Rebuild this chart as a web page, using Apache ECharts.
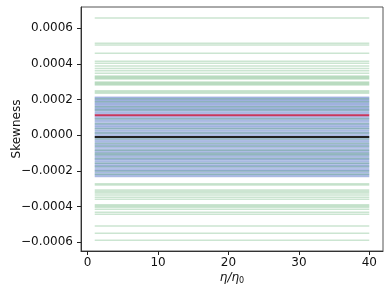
<!DOCTYPE html>
<html>
<head>
<meta charset="utf-8">
<script src="https://cdn.jsdelivr.net/npm/echarts@6/dist/echarts.min.js"></script>
<style>html,body{margin:0;padding:0;background:#fff;}#c{width:390px;height:293px;}</style>
</head>
<body>
<div id="c"></div>
<script>
const etaValues = [1,2,3,4,5,6,7,8,9,10,11,12,13,14,15,16,17,18,19,20,21,22,23,24,25,26,27,28,29,30,31,32,33,34,35,36,37,38,39,40];
const greenLevels = [0.000658, 0.000516, 0.000507, 0.00046, 0.000415, 0.000404, 0.000389, 0.000375, 0.000362, 0.000348, 0.000333, 0.000327, 0.000321, 0.000316, 0.000299, 0.000293, 0.000287, 0.000282, 0.00025, 0.000243, 0.000236,
  0.000205, 0.000188, 0.00016, 0.000141, 0.000092, 0.000065, 0.000038, 0.000012, -0.000021, -0.000046, -0.000062, -0.000085, -0.000101, -0.000109, -0.00013, -0.000158, -0.000176, -0.000201, -0.000219,
  -0.000273, -0.000279, -0.000307, -0.000316, -0.000325, -0.000336, -0.000348, -0.000359, -0.000391, -0.000398, -0.000404, -0.000415, -0.000432, -0.000443, -0.000509, -0.00055, -0.000589];
const blueLevels = [0.000213, 0.000208, 0.000201, 0.000196, 0.000189, 0.000182, 0.000176, 0.000169, 0.000161, 0.000155, 0.000148, 0.000141, 0.000133, 0.000126, 0.000119, 0.000104, 0.000097, 0.000089, 0.000081, 0.000074, 0.000066, 0.000059, 0.000051, 0.000044, 0.000036, 0.000028, 0.000021, 0.000013, 0.000005, -0.000003, -0.000017, -0.000025, -0.000033, -0.000041, -0.000049, -0.000056, -0.000064, -0.000072, -0.00008, -0.000087, -0.000095, -0.000103, -0.000111, -0.000118, -0.000126, -0.000134, -0.000141, -0.000149, -0.000157, -0.000165, -0.000172, -0.00018, -0.000188, -0.000196, -0.000203, -0.000211, -0.000219, -0.000226, -0.000232];
const redLevel = 0.000112;
const blackLevel = -0.0000095;
const yTicks = [-0.0006, -0.0004, -0.0002, 0, 0.0002, 0.0004, 0.0006];
const xTicks = [0, 10, 20, 30, 40];

function flat(v){ return etaValues.map(x => [x, v]); }
const series = [];
blueLevels.forEach(v => series.push({type:'line', data:flat(v), symbol:'none', silent:true, lineStyle:{color:'rgba(76,110,196,0.42)', width:1.6}}));
greenLevels.forEach(v => series.push({type:'line', data:flat(v), symbol:'none', silent:true, lineStyle:{color:'rgba(70,160,90,0.28)', width:1.5}}));
series.push({type:'line', data:flat(redLevel), symbol:'none', silent:true, lineStyle:{color:'#c8365c', width:2}});
series.push({type:'line', data:flat(blackLevel), symbol:'none', silent:true, lineStyle:{color:'#222222', width:2}});

const fmt = v => { const s = Math.abs(v) < 1e-12 ? '0.0000' : Math.abs(v).toFixed(4); return (v < -1e-12 ? '\u2212' : '') + s; };
const chart = echarts.init(document.getElementById('c'), null, {renderer:'canvas'});
chart.setOption({
  animation:false,
  grid:{left:81, right:7, top:7, bottom:42, show:true, borderColor:'#555', borderWidth:1, containLabel:false, outerBoundsMode:'none'},
  xAxis:{type:'value', min:-0.95, max:41.95, splitLine:{show:false},
    axisLine:{show:true, onZero:false, lineStyle:{color:'#333', width:1}},
    axisTick:{show:true, customValues:xTicks, length:4, lineStyle:{color:'#222'}},
    axisLabel:{customValues:xTicks, color:'#111', fontFamily:'DejaVu Sans', fontSize:12, margin:6},
    name:'{i|η/η}{s|0}', nameLocation:'middle', nameGap:20, nameMoveOverlap:false,
    nameTextStyle:{rich:{i:{fontFamily:'DejaVu Sans', fontStyle:'italic', fontSize:12, color:'#111'}, s:{fontFamily:'DejaVu Sans', fontSize:8, color:'#111', verticalAlign:'bottom', padding:[6,0,0,0]}}}},
  yAxis:{type:'value', min:-0.00065, max:0.00072, splitLine:{show:false},
    axisLine:{show:true, onZero:false, lineStyle:{color:'#333', width:1}},
    axisTick:{show:true, customValues:yTicks, length:4, lineStyle:{color:'#222'}},
    axisLabel:{customValues:yTicks, formatter:fmt, color:'#111', fontFamily:'DejaVu Sans', fontSize:12, margin:8},
    name:'Skewness', nameLocation:'middle', nameGap:58, nameRotate:90, nameMoveOverlap:false,
    nameTextStyle:{fontFamily:'DejaVu Sans', fontSize:12, color:'#111'}},
  series:series
});
</script>
</body>
</html>
